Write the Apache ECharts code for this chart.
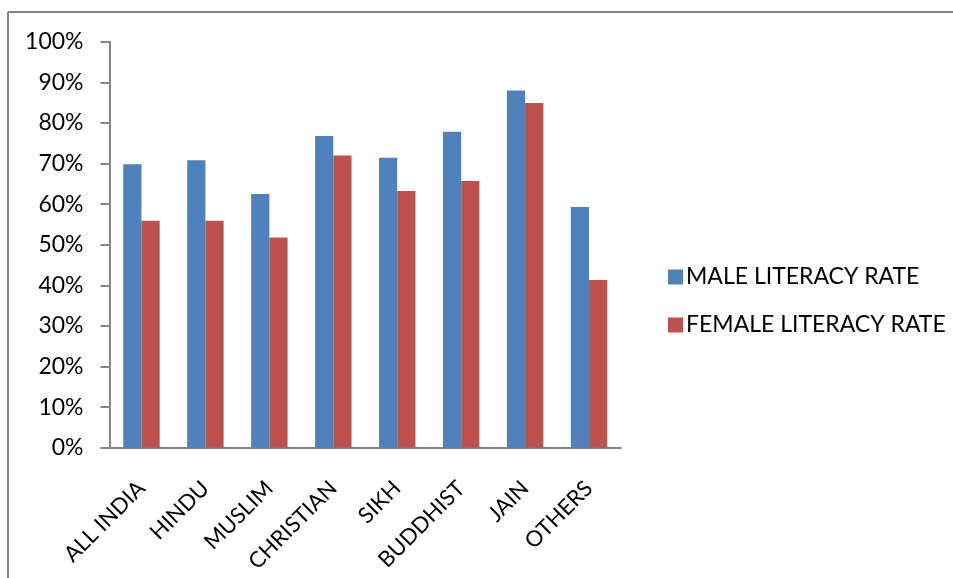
<!DOCTYPE html>
<html>
<head>
<meta charset="utf-8">
<script src="https://cdn.jsdelivr.net/npm/echarts@6/dist/echarts.min.js"></script>
<style>html,body{margin:0;padding:0;background:#fff;}#c{width:953px;height:578px;}</style>
</head>
<body>
<div id="c"></div>
<script>
const categories = ['ALL INDIA','HINDU','MUSLIM','CHRISTIAN','SIKH','BUDDHIST','JAIN','OTHERS'];
const maleRate = [69.8, 70.8, 62.5, 76.8, 71.4, 77.8, 88.0, 59.3];
const femaleRate = [55.9, 55.9, 51.8, 72.0, 63.2, 65.7, 84.9, 41.3];
const seriesNames = ['MALE LITERACY RATE','FEMALE LITERACY RATE'];

const chart = echarts.init(document.getElementById('c'), null, {renderer:'canvas'});
const font = 'Lato';
const fs = 23;
chart.setOption({
  animation:false,
  backgroundColor:'#fff',
  graphic:[
    {type:'line', shape:{x1:8,y1:12,x2:953,y2:12}, style:{stroke:'#868686',lineWidth:2}},
    {type:'line', shape:{x1:8,y1:12,x2:8,y2:578}, style:{stroke:'#868686',lineWidth:2}}
  ],
  grid:{left:109.5,right:332,top:41.7,bottom:130.3,containLabel:false},
  legend:{
    orient:'vertical', left:663, top:260.5, itemWidth:15, itemHeight:15, itemGap:25,
    icon:'rect',
    textStyle:{fontFamily:font,fontSize:fs,color:'#000',lineHeight:15,padding:[0,0,0,-2]},
    data:seriesNames
  },
  xAxis:{
    type:'category', data:categories,
    axisLine:{lineStyle:{color:'#868686',width:2}},
    axisTick:{length:8,lineStyle:{color:'#868686',width:2}},
    axisLabel:{rotate:45,fontFamily:font,fontSize:22,color:'#000',margin:37,interval:0}
  },
  yAxis:{
    type:'value', min:0, max:100, interval:10,
    axisLine:{show:true,lineStyle:{color:'#868686',width:2}},
    axisTick:{show:true,length:9,lineStyle:{color:'#868686',width:2}},
    splitLine:{show:false},
    axisLabel:{formatter:'{value}%',fontFamily:font,fontSize:fs,color:'#000',margin:26}
  },
  series:[
    {name:seriesNames[0], type:'bar', data:maleRate, barGap:'0%', barCategoryGap:'43%',
     itemStyle:{color:'#4F81BD'}},
    {name:seriesNames[1], type:'bar', data:femaleRate, barGap:'0%', barCategoryGap:'43%',
     itemStyle:{color:'#C0504D'}}
  ]
});
</script>
</body>
</html>
